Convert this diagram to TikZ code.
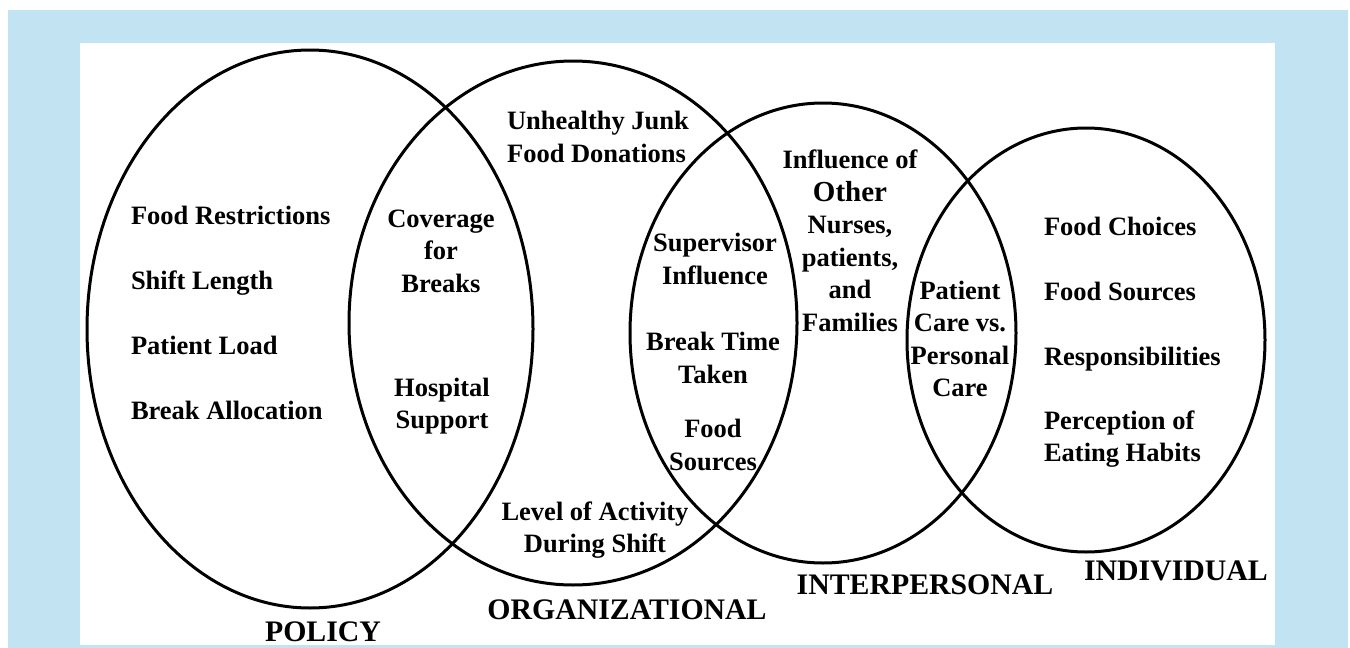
\documentclass[tikz,border=0pt]{standalone}
\usepackage{fontspec}
\setmainfont{Liberation Serif}
\usetikzlibrary{positioning}
\usetikzlibrary{shapes.geometric}
\definecolor{framebg}{RGB}{193,227,242}
\newcommand{\itemfont}{\fontsize{26.5}{32.5}\selectfont\bfseries}
\newcommand{\levelfont}{\fontsize{29.8}{34}\selectfont\bfseries}
\newcommand{\ringwidth}{3pt}

\begin{document}
\begin{tikzpicture}[x=1pt, y=-1pt, node distance=40pt, outer sep=0pt]
\tikzstyle{level}=[
    draw,
    ellipse,
    line width=\ringwidth,
    inner sep=0pt]
\tikzstyle{factor}=[
    align=center,
    inner sep=0pt,
    font=\itemfont]
\tikzstyle{listitem}=[
    anchor=west,
    inner sep=0pt,
    text height=19pt,
    text depth=6pt,
    font=\itemfont]
\tikzstyle{levelname}=[
    inner sep=0pt,
    font=\levelfont]
\useasboundingbox (0,0) rectangle (1350,648);
\fill[framebg] (8,10) rectangle (1348,648);
\fill[white] (80,43) rectangle (1275,645);

% the four levels
\node[level, minimum width=446pt, minimum height=558pt] (policy) at (310,329) {};
\node[level, minimum width=448pt, minimum height=524pt] (organizational) at (573,323) {};
\node[level, minimum width=386pt, minimum height=460pt] (interpersonal) at (823,333) {};
\node[level, minimum width=358pt, minimum height=424pt] (individual) at (1086,340) {};

% policy
\node[listitem] (restrictions) at (131,218) {Food Restrictions};
\node[listitem] (shiftlength) [below = of restrictions.south west, anchor=north west] {Shift Length};
\node[listitem] (patientload) [below = of shiftlength.south west, anchor=north west] {Patient Load};
\node[listitem] (allocation) [below = of patientload.south west, anchor=north west] {Break Allocation};

% policy / organizational
\node[factor] (coverage) at (441,251) {Coverage\\for\\Breaks};
\node[factor] (hospital) at (442,406) {Hospital\\Support};

% organizational
\node[factor, align=left] (donations) at (598,137) {Unhealthy Junk\\Food Donations};
\node[factor] (activity) at (595,530) {Level of Activity\\During Shift};

% organizational / interpersonal
\node[factor] (supervisor) at (715,259) {Supervisor\\Influence};
\node[factor] (breaktime) at (713,358) {Break Time\\Taken};
\node[factor] (foodsources) at (713,445) {Food\\Sources};

% interpersonal
\node[factor] (others) at (850,241) {Influence of\\{\fontsize{29}{32.5}\selectfont Other}\\Nurses,\\patients,\\and\\Families};

% interpersonal / individual
\node[factor] (patientcare) at (960,339) {Patient\\Care vs.\\Personal\\Care};

% individual
\node[listitem] (choices) at (1044,229) {Food Choices};
\node[listitem] (sources) [below = of choices.south west, anchor=north west] {Food Sources};
\node[listitem] (responsibilities) [below = of sources.south west, anchor=north west] {Responsibilities};
\node[factor, align=left, anchor=west] (perception) at (1044,439) {Perception of\\Eating Habits};

% level names
\node[levelname] (policylabel) at (323,632) {POLICY};
\node[levelname] (orglabel) at (627,610) {ORGANIZATIONAL};
\node[levelname] (interlabel) at (925,585) {INTERPERSONAL};
\node[levelname] (indlabel) at (1176,571) {INDIVIDUAL};

\end{tikzpicture}
\end{document}
